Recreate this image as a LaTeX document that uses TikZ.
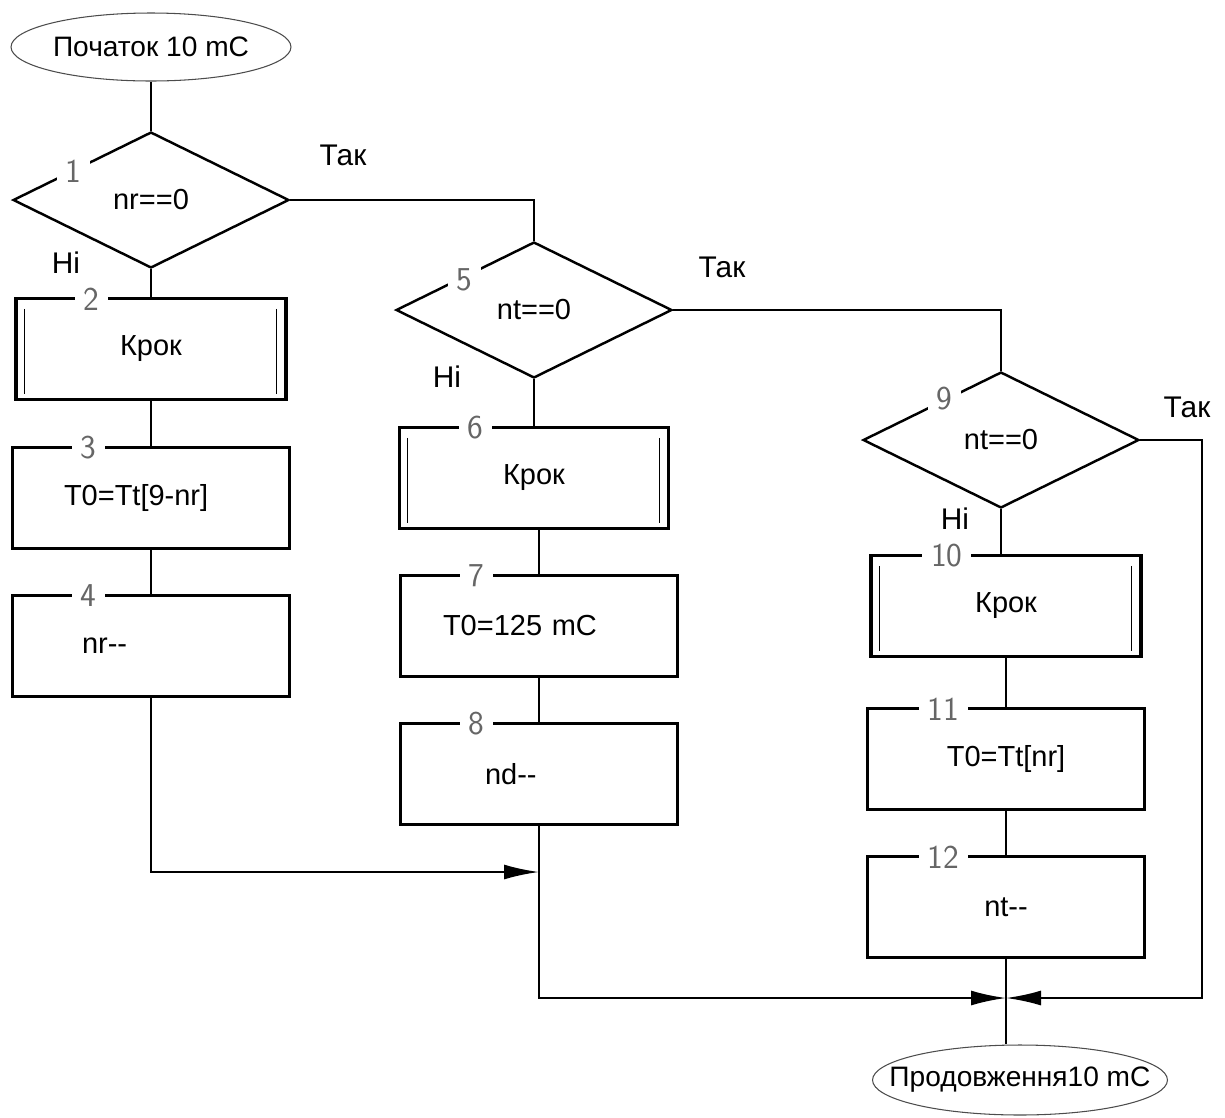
\documentclass[tikz,border=0pt]{standalone}
\usepackage{fontspec}
\setmainfont{Liberation Sans}
\usetikzlibrary{arrows.meta}
\usetikzlibrary{shapes.geometric}

\begin{document}
\begin{tikzpicture}[x=0.02cm, y=-0.02cm,
  blok/.style={draw, line width=1.9pt, minimum width=5.54cm, minimum height=2.02cm, inner sep=2pt, font=\fontsize{16.5}{19}\selectfont},
  subr/.style={blok, minimum width=5.4cm},
  cond/.style={diamond, draw, line width=1.4pt, minimum width=5.52cm, minimum height=2.72cm, inner sep=0pt, font=\fontsize{16.5}{19}\selectfont},
  term/.style={ellipse, draw=black!70, line width=0.6pt, inner xsep=-20pt, inner ysep=0pt, font=\fontsize{16}{19}\selectfont},
  num/.style={fill=white, inner xsep=5pt, inner ysep=1pt, text=black!60, font=\sffamily\fontsize{19}{19}\selectfont},
  lbl/.style={font=\fontsize{17}{20}\selectfont},
  flow/.style={line width=1.3pt},
  arr/.style={flow, -{Latex[length=0.7cm, width=0.3cm]}}
]
\useasboundingbox (0,0) rectangle (1225,1117);

% left column
\node[term, minimum width=5.6cm, minimum height=1.36cm] (e1) at (151,47) {Початок 10 mC};
\node[cond] (d1) at (151,200) {nr==0};
\node[subr] (b2) at (151,349) {Крок};
\node[blok, text width=3.48cm, align=left] (b3) at (151,498) {T0=Tt[9-nr]};
\node[blok, text width=2.76cm, align=left] (b4) at (151,646) {nr-{}-};

% middle column
\node[cond] (d5) at (534,310) {nt==0};
\node[subr, minimum width=5.38cm] (b6) at (534,478) {Крок};
\node[blok, text width=3.84cm, align=left] (b7) at (539,626) {T0=125 mC};
\node[blok, text width=2.16cm, align=left] (b8) at (539,774) {nd-{}-};

% right column
\node[cond] (d9) at (1001,440) {nt==0};
\node[subr] (b10) at (1006,606) {Крок};
\node[blok] (b11) at (1006,759) {T0=Tt[nr]};
\node[blok] (b12) at (1006,907) {nt-{}-};
\node[term, minimum width=5.9cm, minimum height=1.4cm] (e2) at (1020,1080) {Продовження10 mC};

% double sides of the subroutine boxes
\foreach \n in {2,6,10}{
  \draw[line width=0.6pt] ([xshift=0.2cm,yshift=-0.24cm]b\n.north west) -- ([xshift=0.2cm,yshift=0.14cm]b\n.south west);
  \draw[line width=0.6pt] ([xshift=-0.22cm,yshift=-0.24cm]b\n.north east) -- ([xshift=-0.22cm,yshift=0.14cm]b\n.south east);
}

\coordinate (j1) at (539,872);
\coordinate (j2) at (1006,998);

% connectors
\draw[flow] (e1) -- (d1);
\draw[flow] (d1) -- (b2);
\draw[flow] (b2) -- (b3);
\draw[flow] (b3) -- (b4);
\draw[arr] (b4.south) |- (j1);

\draw[flow] (d1.east) -| (d5.north);
\draw[flow] (d5) -- (b6);
\draw[flow] (b6.south -| b7) -- (b7);
\draw[flow] (b7) -- (b8);
\draw[arr] (b8.south) |- (j2);

\draw[flow] (d5.east) -| (d9.north);
\draw[flow] (d9.south) -- (d9.south |- b10.north);
\draw[flow] (b10) -- (b11);
\draw[flow] (b11) -- (b12);
\draw[arr] (d9.east) -- ++(62,0) |- (j2);
\draw[flow] (b12.south) -- (j2 |- e2.north);

% block numbers
\foreach \n in {2,3,4,6,7,8,10,11,12}
  \node[num] at ([xshift=1.55cm,yshift=-0.04cm]b\n.north west) {\n};
\foreach \n/\dx/\dy in {1/-0.16/-0.12, 5/0/-0.08, 9/0.26/0.14}
  \node[num] at ([xshift=\dx cm,yshift=\dy cm]d\n.north west) {\n};

% branch labels
\node[lbl] (tak1) at (343,155) {Так};
\node[lbl] (ni1) at (66,263) {Ні};
\node[lbl] (tak5) at (722,267) {Так};
\node[lbl] (ni5) at (447,377) {Ні};
\node[lbl] (tak9) at (1187,407) {Так};
\node[lbl] (ni9) at (955,519) {Ні};

\end{tikzpicture}
\end{document}
